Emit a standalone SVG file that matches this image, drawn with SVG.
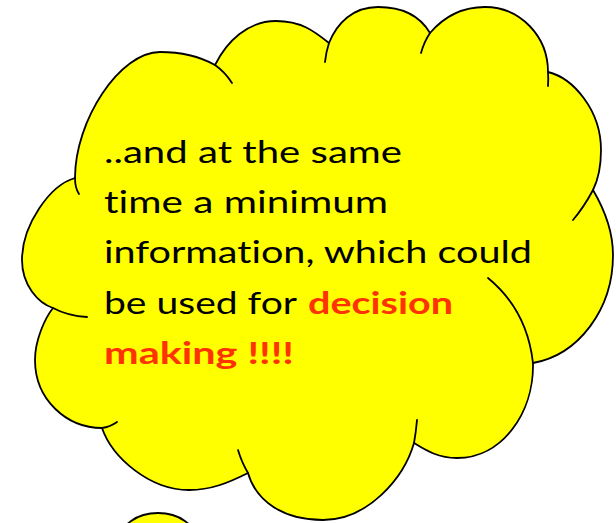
<svg xmlns="http://www.w3.org/2000/svg" width="616" height="523" viewBox="0 0 616 523">
<style>
.shape{fill:#FFFF00;stroke:#000;stroke-width:1.8;stroke-linejoin:round}
.tail{fill:none;stroke:#000;stroke-width:1.8;stroke-linecap:round}
.t{font-family:Lato,"Open Sans","Liberation Sans",sans-serif;font-size:31px;fill:#000;font-variant-ligatures:none;font-feature-settings:"liga" 0,"dlig" 0}
.r{font-weight:bold;fill:#FF3300}
</style>
<rect width="616" height="523" fill="#FFFFFF"/>
<g id="cloud">
<path class="shape" d="M75,178 C75,120 120,52 160,52 C180,52 197,55 215,65 C227,41 248,21 276,21 C301,21 314,31 329,43 C337,23 353,7 378,7 C403,7 420,16 430,33 C442,19 460,7 485,7 C520,7 548,36 548,72 C573,78 601,110 601,150 C601,165 598,180 593,190 C603,207 613,230 613,255 C613,310 578,355 533,363 C534,413 502,458 457,458 C437,458 424,449 414,443 C404,478 368,520 323,520 C283,520 256,501 248,473 C228,483 211,490 189,490 C149,490 112,457 102,428 C67,428 35,400 35,360 C35,340 45,318 53,308 C38,303 22,285 22,260 C22,225 50,185 75,178 Z"/>
<path class="tail" d="M75,178 Q75,188 79,194"/>
<path class="tail" d="M53,308 Q68,316 87,317"/>
<path class="tail" d="M215,65 Q225,72 232,83"/>
<path class="tail" d="M329,43 Q326,52 325,62"/>
<path class="tail" d="M430,33 Q424,42 421,53"/>
<path class="tail" d="M548,72 Q548.5,79 548,86"/>
<path class="tail" d="M593,190 Q584,207 573,220"/>
<path class="tail" d="M488,278 Q527,310 533,363"/>
<path class="tail" d="M417,420 Q416,432 414,443"/>
<path class="tail" d="M238,450 Q242,463 248,473"/>
<path class="tail" d="M102,428 Q110,427 117,422"/>
</g>
<g id="bubble">
<ellipse class="shape" cx="158" cy="540" rx="38" ry="27"/>
</g>
<g id="label">
<text class="t" x="104" y="163" textLength="298" lengthAdjust="spacingAndGlyphs">..and at the same</text>
<text class="t" x="104" y="213" textLength="284" lengthAdjust="spacingAndGlyphs">time a minimum</text>
<text class="t" x="104" y="263" textLength="428" lengthAdjust="spacingAndGlyphs">information, which could</text>
<text class="t" x="104" y="314" textLength="193" lengthAdjust="spacingAndGlyphs">be used for</text>
<text class="t r" x="308" y="314" textLength="145" lengthAdjust="spacingAndGlyphs">decision</text>
<text class="t r" x="104" y="364" textLength="190" lengthAdjust="spacingAndGlyphs">making !!!!</text>
</g>
</svg>
